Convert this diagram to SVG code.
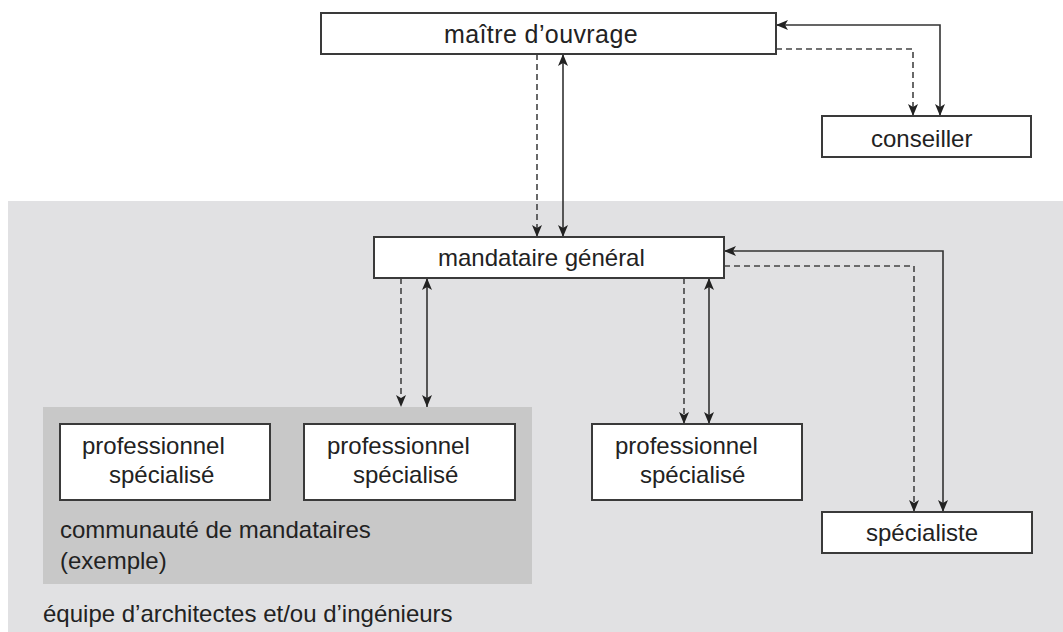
<svg xmlns="http://www.w3.org/2000/svg" width="1063" height="632" viewBox="0 0 1063 632">
<defs>
<style>
.box{fill:#fff;stroke:#3a3a3a;stroke-width:2}
.t{font-family:"Liberation Sans",Arial,sans-serif;font-size:24px;fill:#222}
.c{fill:none;stroke:#333;stroke-width:1.6}
.d{fill:none;stroke:#444;stroke-width:1.6;stroke-dasharray:6 4}
</style>
<marker id="ah" viewBox="0 0 12 10" markerUnits="userSpaceOnUse" markerWidth="12" markerHeight="10" refX="12" refY="5" orient="auto-start-reverse">
<path d="M0,0 L12,5 L0,10 L3,5 z" fill="#222"/>
</marker>
</defs>
<rect x="0" y="0" width="1063" height="632" fill="#fff"/>
<rect id="equipe-bg" x="8" y="201" width="1055" height="431" fill="#e1e1e3"/>
<g id="communaute">
<rect x="43" y="407" width="489" height="177" fill="#c8c8c8"/>
<text class="t" x="60" y="538">communauté de mandataires</text>
<text class="t" x="60" y="569">(exemple)</text>
</g>
<g id="equipe-label"><text class="t" x="43" y="622">équipe d’architectes et/ou d’ingénieurs</text></g>
<g id="connectors">
<path class="d" d="M537,54 V237" marker-end="url(#ah)"/>
<path class="c" d="M563,54 V237" marker-start="url(#ah)" marker-end="url(#ah)"/>
<path class="c" d="M776,25 H940 V116" marker-start="url(#ah)" marker-end="url(#ah)"/>
<path class="d" d="M776,49 H913 V116" marker-end="url(#ah)"/>
<path class="d" d="M401,278 V407" marker-end="url(#ah)"/>
<path class="c" d="M427,278 V407" marker-start="url(#ah)" marker-end="url(#ah)"/>
<path class="d" d="M684,278 V424" marker-end="url(#ah)"/>
<path class="c" d="M709,278 V424" marker-start="url(#ah)" marker-end="url(#ah)"/>
<path class="c" d="M724,251 H943 V512" marker-start="url(#ah)" marker-end="url(#ah)"/>
<path class="d" d="M724,266 H914 V512" marker-end="url(#ah)"/>
</g>
<g id="maitre">
<rect class="box" x="321" y="13" width="455" height="41"/>
<text class="t" x="444" y="43" style="font-size:25px;letter-spacing:0.4px">maître d’ouvrage</text>
</g>
<g id="conseiller">
<rect class="box" x="822" y="116" width="209" height="41"/>
<text class="t" x="871" y="147">conseiller</text>
</g>
<g id="mandataire">
<rect class="box" x="374" y="237" width="350" height="41"/>
<text class="t" x="438" y="266">mandataire général</text>
</g>
<g id="prof1">
<rect class="box" x="60" y="424" width="210" height="76"/>
<text class="t" x="82" y="454">professionnel</text>
<text class="t" x="109" y="483">spécialisé</text>
</g>
<g id="prof2">
<rect class="box" x="304" y="424" width="211" height="76"/>
<text class="t" x="327" y="454">professionnel</text>
<text class="t" x="353" y="483">spécialisé</text>
</g>
<g id="prof3">
<rect class="box" x="592" y="424" width="210" height="76"/>
<text class="t" x="615" y="454">professionnel</text>
<text class="t" x="640" y="483">spécialisé</text>
</g>
<g id="specialiste">
<rect class="box" x="822" y="512" width="210" height="41"/>
<text class="t" x="866" y="541">spécialiste</text>
</g>
</svg>
